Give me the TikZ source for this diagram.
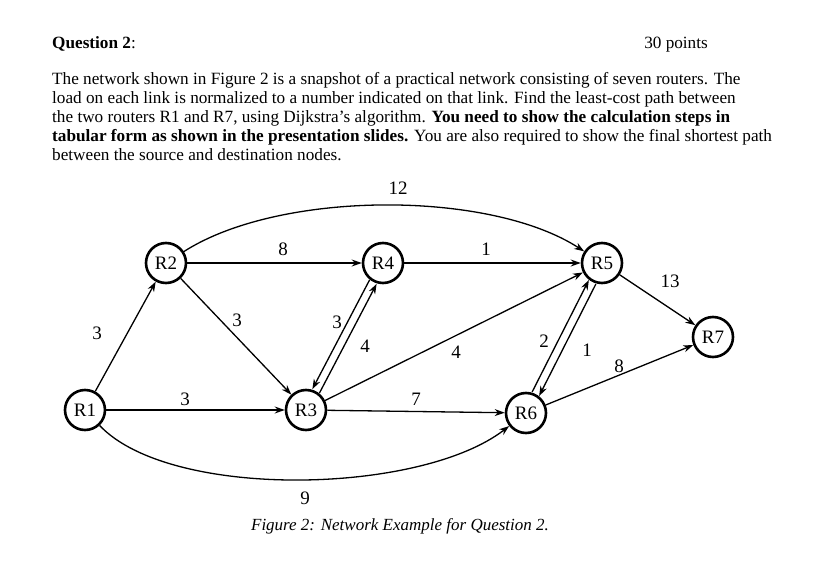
\documentclass[tikz,border=0pt]{standalone}
\usepackage{fontspec}
\setmainfont{Liberation Serif}
\usetikzlibrary{arrows.meta}
\begin{document}
\begin{tikzpicture}[x=1pt,y=-1pt,
  rt/.style={circle,draw,line width=2.6pt,minimum size=40pt,inner sep=0pt,font=\fontsize{19}{19}\selectfont},
  ed/.style={line width=1.3pt,-{Stealth[length=10pt,width=7pt]}},
  wt/.style={font=\fontsize{19}{19}\selectfont},
  tx/.style={anchor=base west,inner sep=0pt,font=\fontsize{17.2}{19}\selectfont}]
\useasboundingbox (0,0) rectangle (822,570);
\node[tx] (q) at (52,48) {\textbf{Question 2}:};
\node[tx,anchor=base east] (pts) at (708,48) {30 points};
\node[tx] (l1) at (52,84) {The network shown in Figure 2 is a snapshot of a practical network consisting of seven routers. The};
\node[tx] (l2) at (52,103) {load on each link is normalized to a number indicated on that link. Find the least-cost path between};
\node[tx] (l3) at (52,122) {the two routers R1 and R7, using Dijkstra's algorithm. \textbf{You need to show the calculation steps in}};
\node[tx] (l4) at (52,141) {\textbf{tabular form as shown in the presentation slides.} You are also required to show the final shortest path};
\node[tx] (l5) at (52,160) {between the source and destination nodes.};

\node[rt] (R1) at (85,410) {R1};
\node[rt] (R2) at (166,263) {R2};
\node[rt] (R3) at (306,410) {R3};
\node[rt] (R4) at (383,263) {R4};
\node[rt] (R5) at (602,263) {R5};
\node[rt] (R6) at (526,413) {R6};
\node[rt] (R7) at (713,337) {R7};

\draw[ed] (R1) -- (R2);
\draw[ed] (R2) -- (R3);
\draw[ed] (R1) -- (R3);
\draw[ed] (R2) -- (R4);
\draw[ed] (R4) -- (R5);
\draw[ed] (R2) .. controls (280,190) and (490,190) .. (R5);
\draw[ed] (R3) -- (R5);
\draw[ed] (R3) -- (R6);
\draw[ed] (R1) .. controls (170,500) and (420,495) .. (R6);
\draw[ed] (R5) -- (R7);
\draw[ed] (R6) -- (R7);
\draw[ed,transform canvas={xshift=-3.5pt,yshift=2pt}] (R4) -- (R3);
\draw[ed,transform canvas={xshift=3.5pt,yshift=-2pt}] (R3) -- (R4);
\draw[ed,transform canvas={xshift=-3.5pt,yshift=2pt}] (R6) -- (R5);
\draw[ed,transform canvas={xshift=3.5pt,yshift=-2pt}] (R5) -- (R6);

\node[wt] (w12) at (398,188) {12};
\node[wt] (w8a) at (283,249) {8};
\node[wt] (w1a) at (486,249) {1};
\node[wt] (w3a) at (97,333) {3};
\node[wt] (w3b) at (237,320) {3};
\node[wt] (w3c) at (337,322) {3};
\node[wt] (w4a) at (365,346) {4};
\node[wt] (w4b) at (456,352) {4};
\node[wt] (w2) at (544,341) {2};
\node[wt] (w1b) at (587,350) {1};
\node[wt] (w13) at (670,281) {13};
\node[wt] (w8b) at (619,366) {8};
\node[wt] (w3d) at (185,399) {3};
\node[wt] (w7) at (416,399) {7};
\node[wt] (w9) at (305,498) {9};
\node[font=\fontsize{17}{19}\selectfont\itshape] (cap) at (400,526) {Figure 2: Network Example for Question 2.};
\end{tikzpicture}
\end{document}
